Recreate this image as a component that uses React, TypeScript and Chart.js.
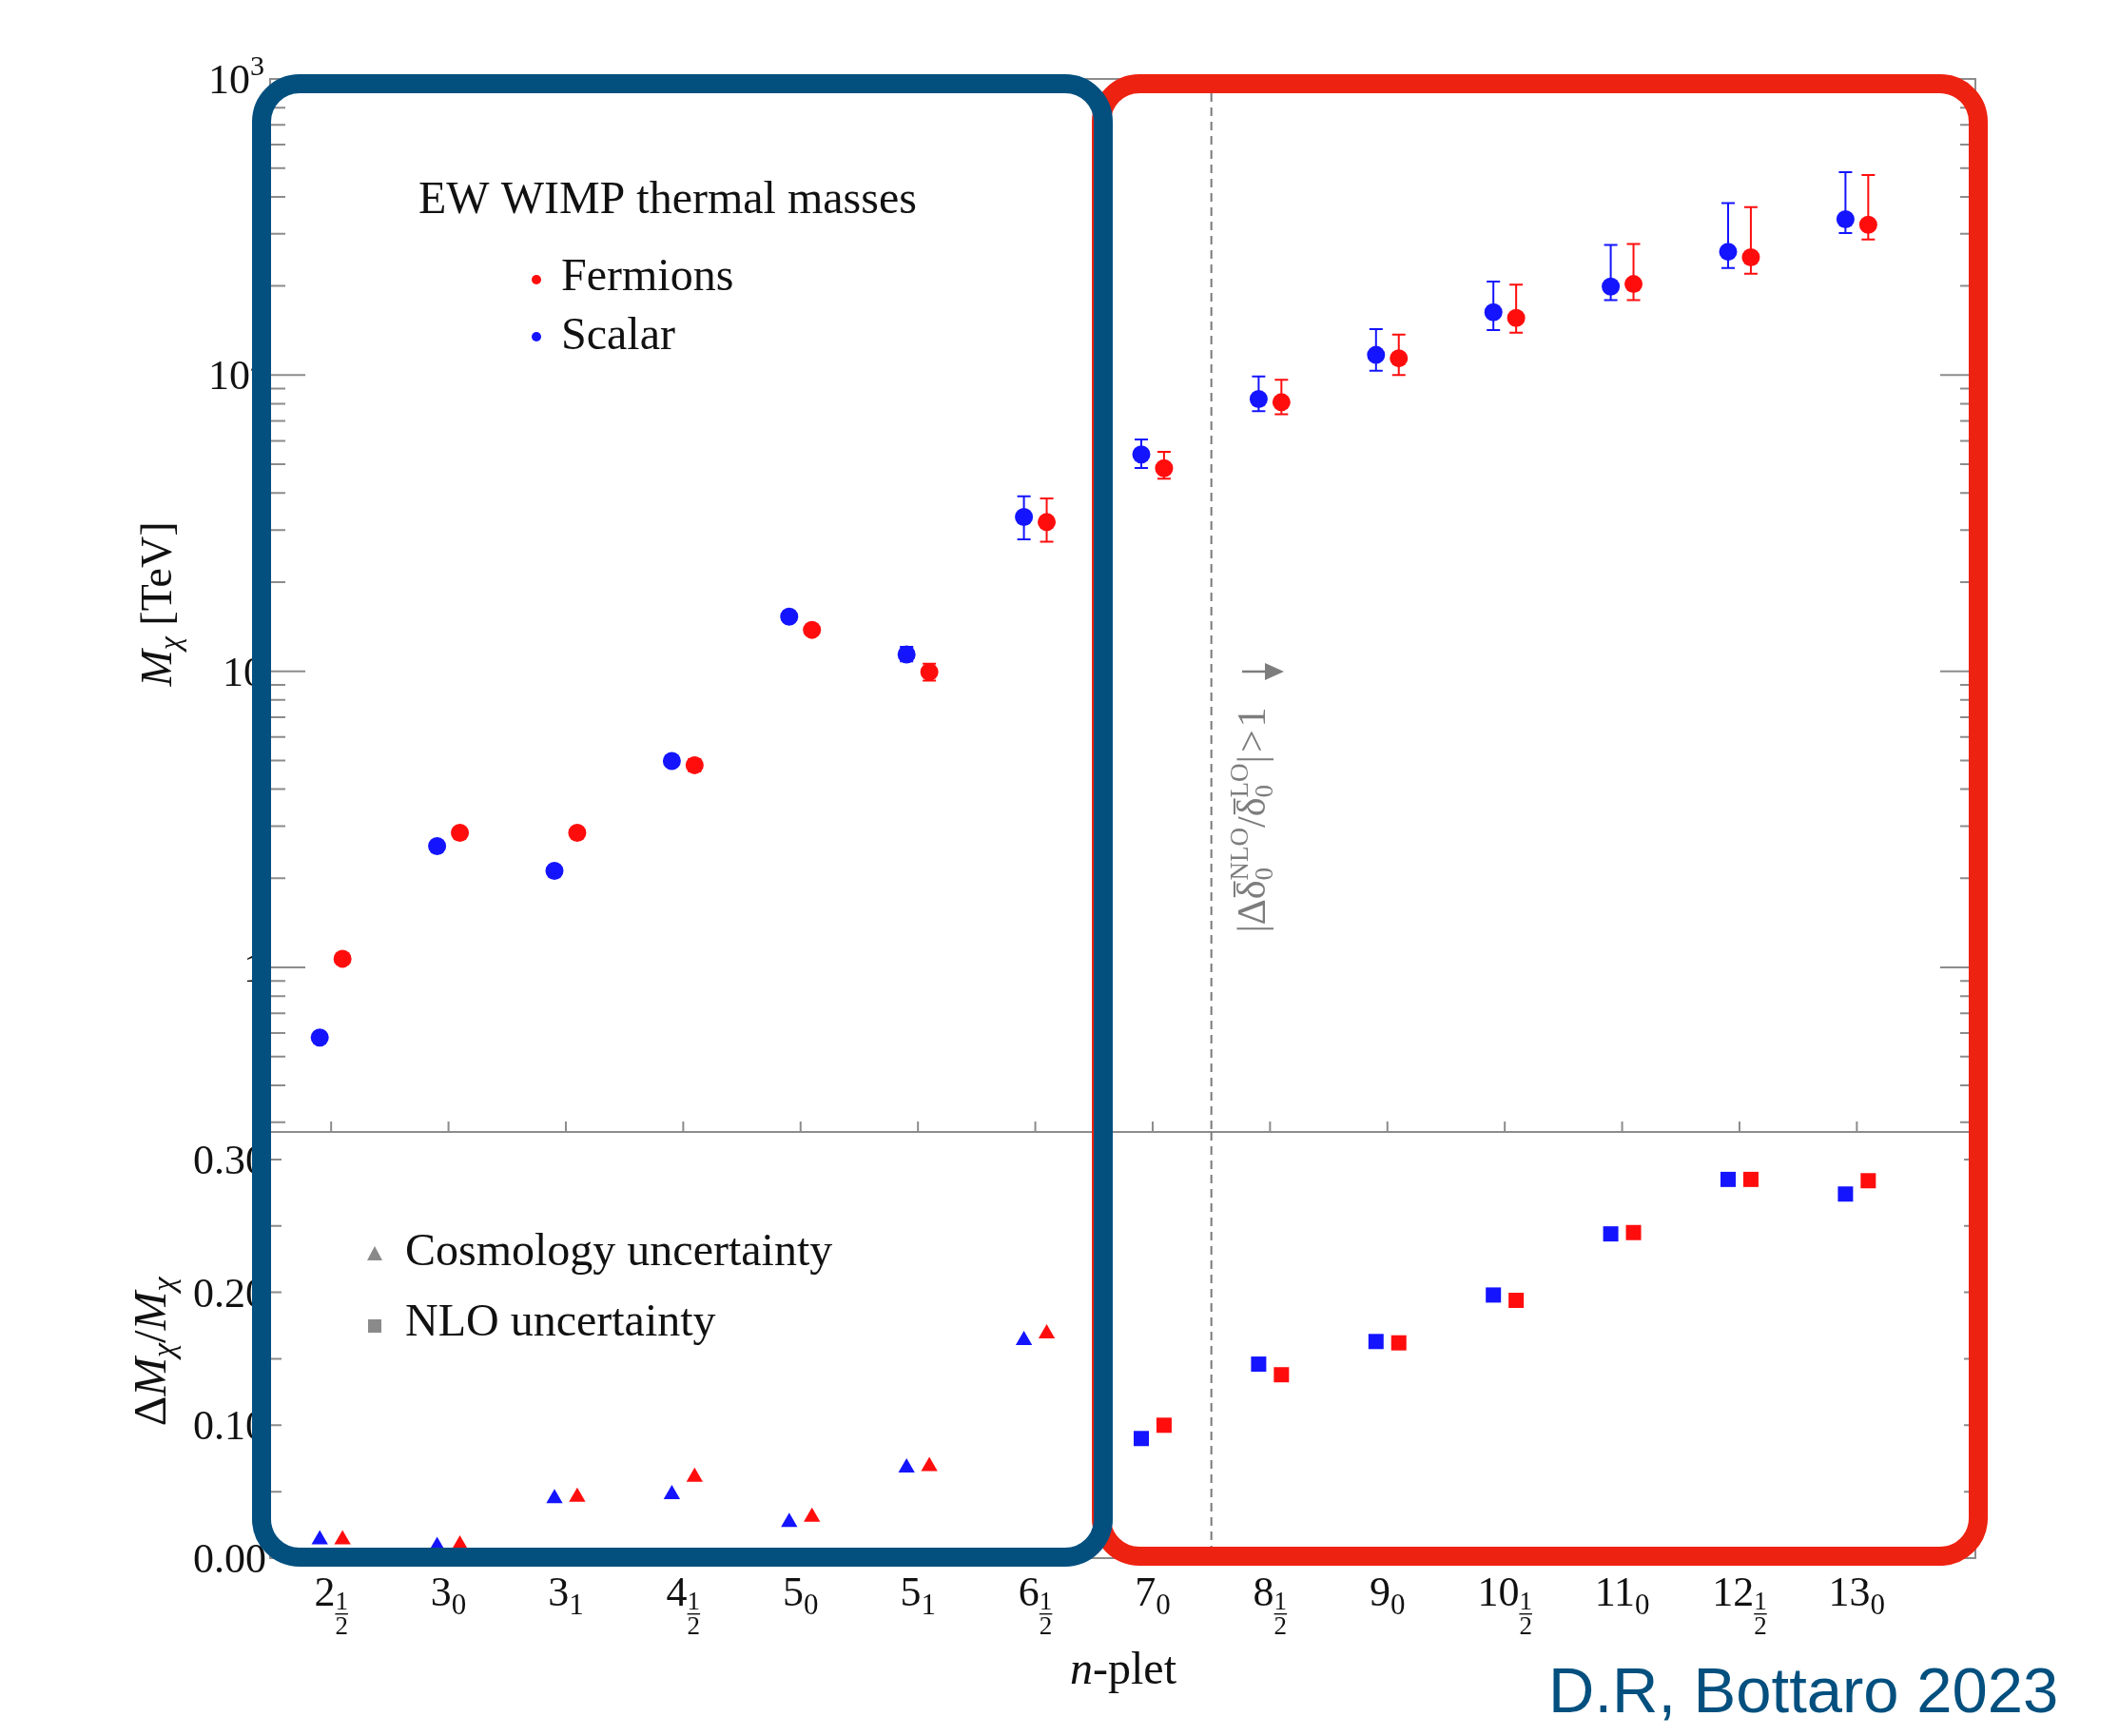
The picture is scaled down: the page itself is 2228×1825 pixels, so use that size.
import React, { useEffect, useRef } from 'react';
import { Chart, registerables } from 'chart.js';

Chart.register(...registerables);

// ---------------- data ----------------
const npletMain = ['2', '3', '3', '4', '5', '5', '6', '7', '8', '9', '10', '11', '12', '13'];
const npletSub = ['1/2', '0', '1', '1/2', '0', '1', '1/2', '0', '1/2', '0', '1/2', '0', '1/2', '0'];

// thermal masses [TeV]
const scalarMass = [0.58, 2.57, 2.12, 4.98, 15.3, 11.4, 33.2, 54.0, 83.0, 117, 163, 199, 261, 336];
const scalarMassLow = [0.58, 2.57, 2.08, 4.88, 15.0, 10.8, 27.9, 48.6, 75.5, 103.5, 142, 179, 230, 302];
const scalarMassHigh = [0.58, 2.57, 2.17, 5.08, 15.6, 12.1, 39.0, 60.6, 99.0, 143, 207, 275, 381, 484];
const fermionMass = [1.07, 2.85, 2.85, 4.82, 13.8, 9.95, 31.9, 48.5, 81.0, 114, 156, 203, 250, 322];
const fermionMassLow = [1.07, 2.85, 2.8, 4.6, 13.8, 9.3, 27.4, 44.7, 73.8, 100, 139, 179, 220, 287];
const fermionMassHigh = [1.07, 2.85, 2.9, 5.05, 13.8, 10.6, 38.3, 55.1, 96.4, 137, 202, 277, 369, 474];

// relative uncertainties (cosmology for 2..6, NLO for 7..13)
const cosmoScalar = [0.014, 0.009, 0.045, 0.048, 0.027, 0.068, 0.164];
const cosmoFermion = [0.014, 0.01, 0.046, 0.061, 0.031, 0.069, 0.169];
const nloScalar = [0.09, 0.146, 0.163, 0.198, 0.244, 0.285, 0.274];
const nloFermion = [0.1, 0.138, 0.162, 0.194, 0.245, 0.285, 0.284];
const cosmoStart = 0;
const nloStart = 7;

const massTickValues = [1, 10, 100, 1000];
const massTickBase = ['1', '10', '10', '10'];
const massTickExp = ['', '', '2', '3'];
const ratioTickValues = [0, 0.1, 0.2, 0.3];
const ratioTickLabels = ['0.00', '0.10', '0.20', '0.30'];
const ratioMinorValues = [0, 0.05, 0.1, 0.15, 0.2, 0.25, 0.3];
const boundaryIndex = 7.5;

// ---------------- layout / style ----------------
const W = 2228;
const H = 1825;
const PLOT_L = 284;
const PLOT_R = 2077;
const UP_T = 83;
const MID_Y = 1190;
const LOW_B = 1638;
const X_MIN = -0.52;
const X_MAX = 14.01;
const MASS_MIN = 0.2783;
const MASS_MAX = 1000;
const RATIO_MIN = 0;
const RATIO_MAX = 0.3207;
const X_OFF = 0.097;

const BLUE = '#1414ff';
const RED = '#ff0d0d';
const FRAME = '#8c8c8c';
const GRAYTXT = '#7d7d7d';
const NAVY = '#03507f';
const BOXRED = '#ee2211';
const SERIF = '"Liberation Serif", "Times New Roman", Times, serif';
const f = (size: number, italic = false) => `${italic ? 'italic ' : ''}${size}px ${SERIF}`;

interface Piece { t: string; f: string; dy: number }
interface Run { t?: string; f?: string; dy?: number; stack?: Piece[]; frac?: boolean; barY?: number; over?: number; pad?: number }

function runWidth(ctx: CanvasRenderingContext2D, r: Run): number {
  if (r.stack) {
    let w = 0;
    for (const p of r.stack) {
      ctx.font = p.f;
      w = Math.max(w, ctx.measureText(p.t).width);
    }
    return w + (r.pad || 0);
  }
  ctx.font = r.f as string;
  return ctx.measureText(r.t as string).width + (r.pad || 0);
}

function drawRuns(ctx: CanvasRenderingContext2D, runs: Run[], x: number, y: number, align: 'left' | 'center' | 'right') {
  const ws = runs.map((r) => runWidth(ctx, r));
  const total = ws.reduce((a, b) => a + b, 0);
  let cx = align === 'left' ? x : align === 'center' ? x - total / 2 : x - total;
  ctx.textAlign = 'left';
  ctx.textBaseline = 'alphabetic';
  runs.forEach((r, i) => {
    const w = ws[i];
    if (r.stack) {
      for (const p of r.stack) {
        ctx.font = p.f;
        const pw = ctx.measureText(p.t).width;
        ctx.fillText(p.t, cx + (r.frac ? (w - pw) / 2 : 0), y + p.dy);
      }
      if (r.frac) ctx.fillRect(cx, y + (r.barY || 6), w - (r.pad || 0), 1.4);
    } else {
      ctx.font = r.f as string;
      ctx.fillText(r.t as string, cx, y + (r.dy || 0));
      if (r.over !== undefined) ctx.fillRect(cx + 2, y + r.over, w - 3, 2);
    }
    cx += w;
  });
}

function xLabelRuns(i: number): Run[] {
  const runs: Run[] = [{ t: npletMain[i], f: f(44) }];
  const s = npletSub[i];
  if (s === '1/2') {
    runs.push({ stack: [{ t: '1', f: f(27), dy: 4 }, { t: '2', f: f(27), dy: 30 }], frac: true, barY: 8 });
  } else {
    runs.push({ t: s, f: f(31), dy: 9 });
  }
  return runs;
}

function drawXLabels(chart: any) {
  const { ctx, scales } = chart;
  ctx.fillStyle = '#111';
  npletMain.forEach((_, i) => {
    const px = scales.x.getPixelForValue(i);
    drawRuns(ctx, xLabelRuns(i), px, 1688, 'center');
  });
}

function drawBoundary(chart: any) {
  const { ctx, chartArea: a, scales } = chart;
  const px = scales.x.getPixelForValue(boundaryIndex);
  ctx.save();
  ctx.strokeStyle = '#7a7a7a';
  ctx.lineWidth = 2;
  ctx.setLineDash([9, 6]);
  ctx.beginPath();
  ctx.moveTo(px, a.top);
  ctx.lineTo(px, a.bottom);
  ctx.stroke();
  ctx.restore();
}

const upperPlugin = {
  id: 'upperDecor',
  beforeDatasetsDraw(chart: any) {
    const { ctx, chartArea: a, scales } = chart;
    const x = scales.x;
    const y = scales.y;
    ctx.save();
    ctx.strokeStyle = FRAME;
    ctx.lineWidth = 2;
    ctx.strokeRect(a.left, a.top, a.right - a.left, a.bottom - a.top);
    ctx.beginPath();
    for (let d = -1; d <= 3; d++) {
      for (let m = 1; m <= 9; m++) {
        const v = m * Math.pow(10, d);
        if (v < MASS_MIN * 0.999 || v > MASS_MAX * 1.001) continue;
        const py = y.getPixelForValue(v);
        const len = m === 1 ? 37 : 16;
        ctx.moveTo(a.left, py);
        ctx.lineTo(a.left + len, py);
        ctx.moveTo(a.right, py);
        ctx.lineTo(a.right - len, py);
      }
    }
    npletMain.forEach((_, i) => {
      const px = x.getPixelForValue(i);
      ctx.moveTo(px, a.bottom);
      ctx.lineTo(px, a.bottom - 11);
    });
    ctx.stroke();
    ctx.restore();

    drawBoundary(chart);

    // error bars
    const series = [
      { v: scalarMassLow, h: scalarMassHigh, off: -X_OFF, c: BLUE },
      { v: fermionMassLow, h: fermionMassHigh, off: X_OFF, c: RED },
    ];
    ctx.save();
    ctx.lineWidth = 2;
    for (const s of series) {
      ctx.strokeStyle = s.c;
      s.v.forEach((lo, i) => {
        const px = x.getPixelForValue(i + s.off);
        const pl = y.getPixelForValue(lo);
        const ph = y.getPixelForValue(s.h[i]);
        if (Math.abs(pl - ph) < 3) return;
        ctx.beginPath();
        ctx.moveTo(px, pl);
        ctx.lineTo(px, ph);
        ctx.moveTo(px - 7, pl);
        ctx.lineTo(px + 7, pl);
        ctx.moveTo(px - 7, ph);
        ctx.lineTo(px + 7, ph);
        ctx.stroke();
      });
    }
    ctx.restore();
  },
  afterDraw(chart: any) {
    const { ctx, scales } = chart;
    const y = scales.y;
    ctx.save();
    ctx.fillStyle = '#111';
    // y tick labels
    massTickValues.forEach((v, i) => {
      const py = y.getPixelForValue(v);
      const runs: Run[] = [{ t: massTickBase[i], f: f(44) }];
      if (massTickExp[i]) runs.push({ t: massTickExp[i], f: f(30), dy: -19 });
      drawRuns(ctx, runs, 278, py + 15, 'right');
    });
    // y title
    ctx.save();
    ctx.translate(180, 635);
    ctx.rotate(-Math.PI / 2);
    drawRuns(ctx, [
      { t: 'M', f: f(46, true) },
      { t: 'χ', f: f(32, true), dy: 9 },
      { t: ' [TeV]', f: f(46) },
    ], 0, 0, 'center');
    ctx.restore();

    // legend
    ctx.fillStyle = '#111';
    ctx.font = f(48);
    ctx.textAlign = 'left';
    ctx.textBaseline = 'alphabetic';
    ctx.fillText('EW WIMP thermal masses', 440, 224);
    ctx.fillText('Fermions', 590, 305);
    ctx.fillText('Scalar', 590, 367);
    ctx.fillStyle = RED;
    ctx.beginPath();
    ctx.arc(564, 294, 5, 0, Math.PI * 2);
    ctx.fill();
    ctx.fillStyle = BLUE;
    ctx.beginPath();
    ctx.arc(564, 354, 5, 0, Math.PI * 2);
    ctx.fill();

    // rotated annotation
    ctx.save();
    ctx.fillStyle = GRAYTXT;
    ctx.translate(1330, 862);
    ctx.rotate(-Math.PI / 2);
    drawRuns(ctx, [
      { t: '|', f: f(42) },
      { t: 'Δ', f: f(42) },
      { t: 'δ', f: f(42), over: -33 },
      { stack: [{ t: 'NLO', f: f(27), dy: -18 }, { t: '0', f: f(27), dy: 8 }] },
      { t: '/', f: f(42) },
      { t: 'δ', f: f(42), over: -33 },
      { stack: [{ t: 'LO', f: f(27), dy: -18 }, { t: '0', f: f(27), dy: 8 }] },
      { t: '|', f: f(42), pad: 3 },
      { t: '>', f: f(42), pad: 3 },
      { t: '1', f: f(42) },
    ], 0, 0, 'center');
    ctx.restore();
    // arrow
    ctx.strokeStyle = GRAYTXT;
    ctx.fillStyle = GRAYTXT;
    ctx.lineWidth = 2.5;
    ctx.beginPath();
    ctx.moveTo(1306, 706);
    ctx.lineTo(1336, 706);
    ctx.stroke();
    ctx.beginPath();
    ctx.moveTo(1350, 706);
    ctx.lineTo(1330, 697);
    ctx.lineTo(1330, 715);
    ctx.closePath();
    ctx.fill();
    ctx.restore();
  },
};

const lowerPlugin = {
  id: 'lowerDecor',
  beforeDatasetsDraw(chart: any) {
    const { ctx, chartArea: a, scales } = chart;
    const x = scales.x;
    const y = scales.y;
    ctx.save();
    ctx.strokeStyle = FRAME;
    ctx.lineWidth = 2;
    ctx.strokeRect(a.left, a.top, a.right - a.left, a.bottom - a.top);
    ctx.beginPath();
    ratioMinorValues.forEach((v) => {
      const py = y.getPixelForValue(v);
      ctx.moveTo(a.left, py);
      ctx.lineTo(a.left + 12, py);
      ctx.moveTo(a.right, py);
      ctx.lineTo(a.right - 12, py);
    });
    npletMain.forEach((_, i) => {
      const px = x.getPixelForValue(i);
      ctx.moveTo(px, a.bottom);
      ctx.lineTo(px, a.bottom - 11);
    });
    ctx.stroke();
    ctx.restore();
    drawBoundary(chart);
  },
  afterDraw(chart: any) {
    const { ctx, scales } = chart;
    const y = scales.y;
    ctx.save();
    ctx.fillStyle = '#111';
    ratioTickValues.forEach((v, i) => {
      const py = y.getPixelForValue(v);
      drawRuns(ctx, [{ t: ratioTickLabels[i], f: f(44) }], 280, py + 15, 'right');
    });
    drawXLabels(chart);
    // x title
    drawRuns(ctx, [{ t: 'n', f: f(48, true) }, { t: '-plet', f: f(48) }], 1181, 1770, 'center');
    // y title
    ctx.save();
    ctx.translate(174, 1421);
    ctx.rotate(-Math.PI / 2);
    drawRuns(ctx, [
      { t: 'Δ', f: f(49) },
      { t: 'M', f: f(49, true) },
      { t: 'χ', f: f(34, true), dy: 9 },
      { t: '/', f: f(49) },
      { t: 'M', f: f(49, true) },
      { t: 'χ', f: f(34, true), dy: 9 },
    ], 0, 0, 'center');
    ctx.restore();

    // legend
    ctx.fillStyle = '#111';
    ctx.font = f(48);
    ctx.textAlign = 'left';
    ctx.textBaseline = 'alphabetic';
    ctx.fillText('Cosmology uncertainty', 426, 1330);
    ctx.fillText('NLO uncertainty', 426, 1404);
    ctx.fillStyle = '#8a8a8a';
    ctx.beginPath();
    ctx.moveTo(394, 1310);
    ctx.lineTo(402, 1325);
    ctx.lineTo(386, 1325);
    ctx.closePath();
    ctx.fill();
    ctx.fillRect(387, 1387, 14, 14);

    // credit
    ctx.fillStyle = NAVY;
    ctx.font = '67px "Liberation Sans", Arial, Helvetica, sans-serif';
    ctx.fillText('D.R, Bottaro 2023', 1628, 1800);
    ctx.restore();
  },
};

function baseOptions(padding: any, yScale: any) {
  return {
    responsive: false,
    animation: false as const,
    devicePixelRatio: 1,
    events: [] as any[],
    layout: { padding, autoPadding: false },
    plugins: { legend: { display: false }, tooltip: { enabled: false }, title: { display: false } },
    scales: {
      x: { type: 'linear' as const, min: X_MIN, max: X_MAX, display: false },
      y: yScale,
    },
  };
}

function pointSet(label: string, data: { x: number; y: number }[], color: string, style: string, radius: number) {
  return {
    label,
    data,
    pointStyle: style,
    pointRadius: radius,
    pointBackgroundColor: color,
    pointBorderColor: color,
    pointBorderWidth: 0,
    backgroundColor: color,
    borderColor: color,
    clip: false as const,
  };
}

export default function App() {
  const upRef = useRef<HTMLCanvasElement>(null);
  const lowRef = useRef<HTMLCanvasElement>(null);

  useEffect(() => {
    const upper = new Chart(upRef.current as HTMLCanvasElement, {
      type: 'scatter',
      data: {
        datasets: [
          pointSet('Scalar', scalarMass.map((v, i) => ({ x: i - X_OFF, y: v })), BLUE, 'circle', 9.5),
          pointSet('Fermions', fermionMass.map((v, i) => ({ x: i + X_OFF, y: v })), RED, 'circle', 9.5),
        ] as any,
      },
      options: baseOptions(
        { left: PLOT_L, right: W - PLOT_R, top: UP_T, bottom: H - MID_Y },
        { type: 'logarithmic', min: MASS_MIN, max: MASS_MAX, display: false },
      ) as any,
      plugins: [upperPlugin],
    });
    const lower = new Chart(lowRef.current as HTMLCanvasElement, {
      type: 'scatter',
      data: {
        datasets: [
          pointSet('Cosmology scalar', cosmoScalar.map((v, i) => ({ x: cosmoStart + i - X_OFF, y: v })), BLUE, 'triangle', 10),
          pointSet('Cosmology fermion', cosmoFermion.map((v, i) => ({ x: cosmoStart + i + X_OFF, y: v })), RED, 'triangle', 10),
          pointSet('NLO scalar', nloScalar.map((v, i) => ({ x: nloStart + i - X_OFF, y: v })), BLUE, 'rect', 11.3),
          pointSet('NLO fermion', nloFermion.map((v, i) => ({ x: nloStart + i + X_OFF, y: v })), RED, 'rect', 11.3),
        ] as any,
      },
      options: baseOptions(
        { left: PLOT_L, right: W - PLOT_R, top: MID_Y, bottom: H - LOW_B },
        { type: 'linear', min: RATIO_MIN, max: RATIO_MAX, display: false },
      ) as any,
      plugins: [lowerPlugin],
    });
    return () => {
      upper.destroy();
      lower.destroy();
    };
  }, []);

  const canvasStyle: React.CSSProperties = { position: 'absolute', left: 0, top: 0, width: W, height: H };
  const box = (left: number, top: number, right: number, bottom: number, color: string): React.CSSProperties => ({
    position: 'absolute',
    left,
    top,
    width: right - left,
    height: bottom - top,
    boxSizing: 'border-box',
    border: `20px solid ${color}`,
    borderRadius: 50,
    pointerEvents: 'none',
  });

  return (
    <div style={{ position: 'absolute', left: 0, top: 0, width: W, height: H, background: '#fff', overflow: 'hidden' }}>
      <canvas ref={upRef} width={W} height={H} style={canvasStyle} />
      <canvas ref={lowRef} width={W} height={H} style={canvasStyle} />
      <div style={box(1148, 78, 2090, 1646, BOXRED)} />
      <div style={box(265, 78, 1170, 1647, NAVY)} />
    </div>
  );
}
